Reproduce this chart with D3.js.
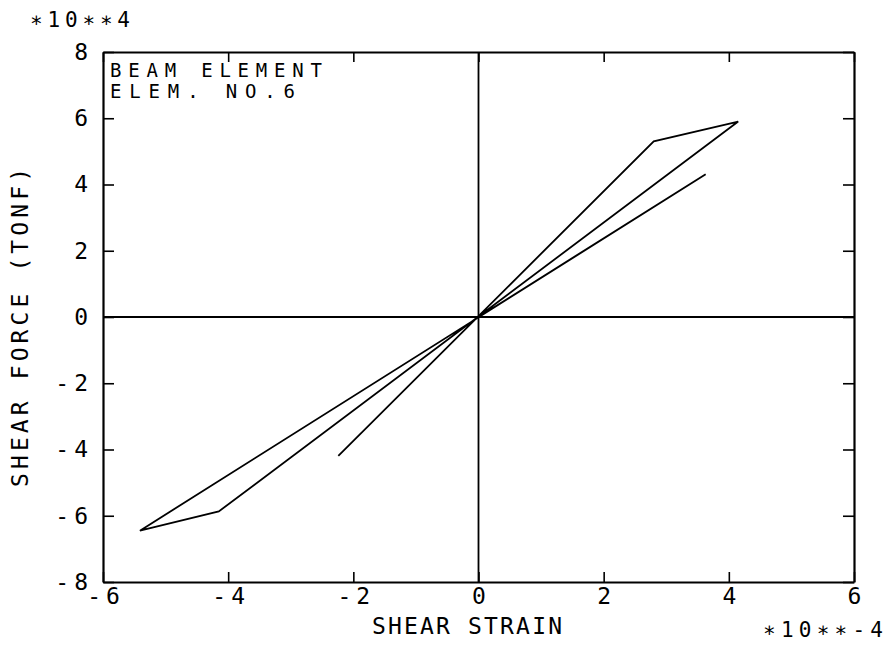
<!DOCTYPE html>
<html>
<head>
<meta charset="utf-8">
<script src="https://cdn.jsdelivr.net/npm/d3@7/dist/d3.min.js"></script>
<style>
  html, body { margin: 0; padding: 0; background: #fff; }
  svg { display: block; }
</style>
</head>
<body>
<svg id="chart" width="889" height="651"></svg>
<script>
// ---- data ----
const strain = [0, 3.63, -5.41, -4.15, 4.15, 2.80, -2.24];   // x, *10**-4
const force  = [0, 4.31, -6.45, -5.87, 5.90, 5.30, -4.19];   // y, *10**4 tonf
const xTicks = [-6, -4, -2, 0, 2, 4, 6];
const yTicks = [-8, -6, -4, -2, 0, 2, 4, 6, 8];
const xTitle = "SHEAR STRAIN";
const yTitle = "SHEAR FORCE (TONF)";
const xExp = "\u221710\u2217\u2217-4";
const yExp = "\u221710\u2217\u22174";
const boxLines = ["BEAM ELEMENT", "ELEM. NO.6"];

const FONT = "'DejaVu Sans Mono', 'Liberation Mono', monospace";
const svg = d3.select("#chart");
const L = 103, R = 854, T = 52, B = 582;

const x = d3.scaleLinear().domain([-6, 6]).range([L, R]);
const y = d3.scaleLinear().domain([-8, 8]).range([B, T]);
const fmt = d => d < 0 ? "-" + Math.abs(d) : String(d);

// zero lines
svg.append("line").attr("x1", x(0)).attr("x2", x(0)).attr("y1", T).attr("y2", B)
  .attr("stroke", "#000").attr("stroke-width", 1.8);
svg.append("line").attr("x1", L).attr("x2", R).attr("y1", y(0)).attr("y2", y(0))
  .attr("stroke", "#000").attr("stroke-width", 1.8);

// axes (inward ticks)
function styleAxis(g) {
  g.attr("font-family", FONT).attr("font-size", 23);
  g.select(".domain").attr("stroke-width", 2.2);
  g.selectAll(".tick line").attr("stroke-width", 1.6);
  g.selectAll(".tick text").attr("fill", "#000").style("letter-spacing", "5px");
}
svg.append("g").attr("transform", `translate(0,${B})`)
  .call(d3.axisBottom(x).tickValues(xTicks).tickFormat(fmt).tickSize(-10).tickSizeOuter(0).tickPadding(6))
  .call(styleAxis)
  .call(g => g.selectAll(".tick text").attr("dx", "2.5px"));
svg.append("g").attr("transform", `translate(0,${T})`)
  .call(d3.axisTop(x).tickValues(xTicks).tickFormat("").tickSize(-10).tickSizeOuter(0))
  .call(styleAxis);
svg.append("g").attr("transform", `translate(${L},0)`)
  .call(d3.axisLeft(y).tickValues(yTicks).tickFormat(fmt).tickSize(-11).tickSizeOuter(0).tickPadding(10))
  .call(styleAxis);
svg.append("g").attr("transform", `translate(${R},0)`)
  .call(d3.axisRight(y).tickValues(yTicks).tickFormat("").tickSize(-11).tickSizeOuter(0))
  .call(styleAxis);

// data line
const pts = strain.map((s, i) => [s, force[i]]);
svg.append("path")
  .attr("d", d3.line().x(d => x(d[0])).y(d => y(d[1]))(pts))
  .attr("fill", "none").attr("stroke", "#000").attr("stroke-width", 1.8)
  .attr("stroke-linejoin", "miter");

// texts
function txt(s, px, py, len, size, extra) {
  const t = svg.append("text").attr("x", px).attr("y", py)
    .attr("font-family", FONT).attr("font-size", size).attr("fill", "#000")
    .attr("textLength", len).attr("lengthAdjust", "spacing").text(s);
  if (extra) extra(t);
  return t;
}
txt(boxLines[0], 110, 77, 212, 19);
txt(boxLines[1], 110, 98, 185, 19);
txt(yExp, 30, 27, 100, 21);
txt(xExp, 763, 637, 120, 21);
txt(xTitle, 372, 634, 190, 23);
txt(yTitle, 0, 0, 319, 23, t => t.attr("transform", "translate(28,487) rotate(-90)"));
</script>
</body>
</html>
